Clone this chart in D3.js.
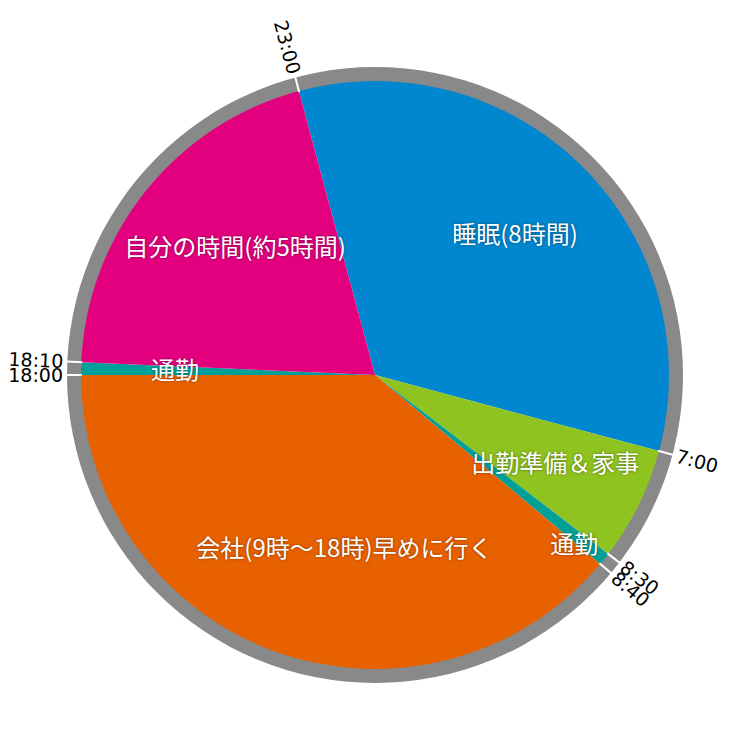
<!DOCTYPE html>
<html>
<head>
<meta charset="utf-8">
<script src="https://cdn.jsdelivr.net/npm/d3@7"></script>
<style>
  body { margin: 0; background: #fff; }
  .slice-label { font-family: "Noto Sans CJK JP", "Noto Sans", sans-serif; font-size: 24px; fill: #fff;
    text-shadow: 0 0 3px rgba(0,0,0,0.45); }
  .time-label { font-family: "DejaVu Sans", sans-serif; font-size: 19px; fill: #000; }
</style>
</head>
<body>
<div id="chart"></div>
<script>
// one day, starting at 23:00, in minutes
var categories = ['睡眠(8時間)', '出勤準備＆家事', '通勤', '会社(9時～18時)早めに行く', '通勤', '自分の時間(約5時間)'];
var minutes = [480, 90, 10, 560, 10, 290];
var startTimes = ['23:00', '7:00', '8:30', '8:40', '18:00', '18:10'];
var colors = ['#0087cf', '#8fc31f', '#00a099', '#e86100', '#00a099', '#e2007f'];

var width = 750, height = 750;
var cx = 375, cy = 375;
var pieR = 294, ringOuter = 308;

// label tweaks (radius / angle nudge in degrees), like the original layout
var labelLayout = [
  {r: 198, da: 0},
  {r: 201, da: 0},
  {r: 262, da: 1.7},
  {r: 176, da: -10},
  {r: 200, da: 0},
  {r: 189, da: 3.5}
];

var svg = d3.select('#chart').append('svg').attr('width', width).attr('height', height);
var g = svg.append('g').attr('transform', 'translate(' + cx + ',' + cy + ')');

var start = -Math.PI / 12; // 23:00 on a 24h dial
var pie = d3.pie().sort(null).value(function(d){ return d; })
    .startAngle(start).endAngle(start + 2 * Math.PI);
var arcs = pie(minutes);

// gray ring
g.append('path')
  .attr('d', d3.arc()({innerRadius: pieR - 1, outerRadius: ringOuter, startAngle: 0, endAngle: 2 * Math.PI}))
  .attr('fill', '#898989');

var arc = d3.arc().innerRadius(0).outerRadius(pieR);
g.selectAll('path.slice').data(arcs).enter().append('path')
  .attr('class', 'slice')
  .attr('d', arc)
  .attr('fill', function(d, i){ return colors[i]; });

// white ticks on the ring at every boundary
g.selectAll('line.tick').data(arcs).enter().append('line')
  .attr('x1', function(d){ return (pieR - 1) * Math.sin(d.startAngle); })
  .attr('y1', function(d){ return -(pieR - 1) * Math.cos(d.startAngle); })
  .attr('x2', function(d){ return (ringOuter + 1) * Math.sin(d.startAngle); })
  .attr('y2', function(d){ return -(ringOuter + 1) * Math.cos(d.startAngle); })
  .attr('stroke', '#fff')
  .attr('stroke-width', 2);

// time labels outside the ring
var tr = ringOuter + 4;
g.selectAll('text.time-label').data(arcs).enter().append('text')
  .attr('class', 'time-label')
  .attr('dy', '0.35em')
  .attr('text-anchor', function(d){
    var deg = ((d.startAngle * 180 / Math.PI) % 360 + 360) % 360;
    return deg < 180 ? 'start' : 'end';
  })
  .attr('transform', function(d){
    var deg = ((d.startAngle * 180 / Math.PI) % 360 + 360) % 360;
    var x = tr * Math.sin(d.startAngle), y = -tr * Math.cos(d.startAngle);
    var rot = deg < 180 ? deg - 90 : deg + 90;
    return 'translate(' + x + ',' + y + ') rotate(' + rot + ')';
  })
  .text(function(d, i){ return startTimes[i]; });

// slice labels
g.selectAll('text.slice-label').data(arcs).enter().append('text')
  .attr('class', 'slice-label')
  .attr('text-anchor', 'middle')
  .attr('dy', '0.35em')
  .attr('x', function(d, i){
    var a = (d.startAngle + d.endAngle) / 2 + labelLayout[i].da * Math.PI / 180;
    return labelLayout[i].r * Math.sin(a);
  })
  .attr('y', function(d, i){
    var a = (d.startAngle + d.endAngle) / 2 + labelLayout[i].da * Math.PI / 180;
    return -labelLayout[i].r * Math.cos(a);
  })
  .text(function(d, i){ return categories[i]; });
</script>
</body>
</html>
